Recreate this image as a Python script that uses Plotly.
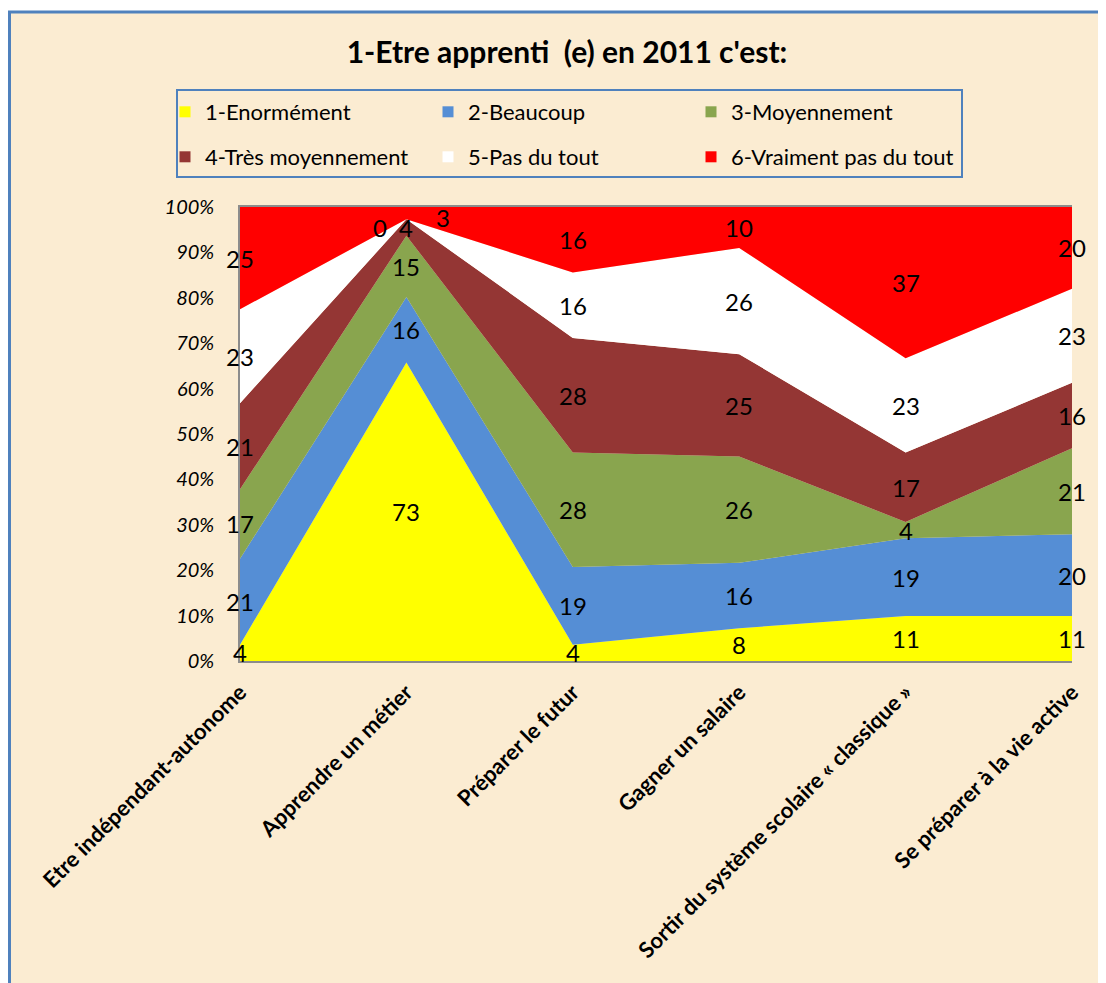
import plotly.graph_objects as go

categories = [
    "Etre indépendant-autonome",
    "Apprendre un métier",
    "Préparer le futur",
    "Gagner un salaire",
    "Sortir du système scolaire « classique »",
    "Se préparer à la vie active",
]
series_names = [
    "1-Enormément",
    "2-Beaucoup",
    "3-Moyennement",
    "4-Très moyennement",
    "5-Pas du tout",
    "6-Vraiment pas du tout",
]
enormement = [4, 73, 4, 8, 11, 11]
beaucoup = [21, 16, 19, 16, 19, 20]
moyennement = [17, 15, 28, 26, 4, 21]
tres_moyennement = [21, 4, 28, 25, 17, 16]
pas_du_tout = [23, 0, 16, 26, 23, 23]
vraiment_pas = [25, 3, 16, 10, 37, 20]
series_values = [enormement, beaucoup, moyennement, tres_moyennement, pas_du_tout, vraiment_pas]
colors = ["#FFFF00", "#558ED5", "#89A54E", "#943634", "#FFFFFF", "#FF0000"]
ytick_vals = [0, 10, 20, 30, 40, 50, 60, 70, 80, 90, 100]
ytick_text = [f"{v}%" for v in ytick_vals]

# manual label nudges (series index, category index) -> (xshift, yshift)
label_shift = {(4, 1): (-26, -8), (5, 1): (37, -4)}

OFF = 8  # page body margin
W, H = 1106, 983
L, R, T, B = 240 - OFF, 1072 - OFF, 207 - OFF, 661 - OFF  # plot area in figure pixels
PW, PH = R - L, B - T


def px_x(p):
    return (p - OFF - L) / PW


def px_y(p):
    return (B - (p - OFF)) / PH


fig = go.Figure()
for name, vals, col in zip(series_names, series_values, colors):
    fig.add_trace(go.Scatter(
        x=categories, y=vals, name=name, mode="none",
        stackgroup="one", groupnorm="percent",
        fillcolor=col, line=dict(width=0),
        showlegend=False, hoverinfo="skip",
    ))

# legend-only square markers
for i, (name, col) in enumerate(zip(series_names, colors)):
    fig.add_trace(go.Scatter(
        x=[None], y=[None], name=name, mode="markers",
        marker=dict(symbol="square", size=11, color=col, line=dict(width=0)),
        legend="legend" if i < 3 else "legend2",
    ))

# data labels at segment midpoints
totals = [sum(s[j] for s in series_values) for j in range(len(categories))]
for j, cat in enumerate(categories):
    cum = 0.0
    for i, vals in enumerate(series_values):
        v = vals[j]
        pct = v / totals[j] * 100
        mid = cum + pct / 2
        cum += pct
        xs, ys = label_shift.get((i, j), (0, 0))
        fig.add_annotation(
            x=cat, y=mid, text=str(v), showarrow=False,
            xshift=xs, yshift=ys,
            font=dict(family="Lato", size=24, color="black"),
        )

# frame
fig.add_shape(
    type="rect", xref="paper", yref="paper",
    x0=px_x(9.5), x1=px_x(1200), y0=px_y(1100), y1=px_y(12),
    line=dict(color="#4F81BD", width=3), fillcolor="#FBECD2", layer="below",
)
# legend box
fig.add_shape(
    type="rect", xref="paper", yref="paper",
    x0=px_x(177), x1=px_x(962), y0=px_y(177), y1=px_y(90),
    line=dict(color="#4F81BD", width=2), fillcolor="rgba(0,0,0,0)", layer="below",
)

legend_common = dict(
    orientation="h", xanchor="left", yanchor="middle",
    entrywidth=218, entrywidthmode="pixels", traceorder="normal",
    bgcolor="rgba(0,0,0,0)", borderwidth=0,
    font=dict(family="Lato", size=22, color="black"),
    itemclick=False, itemdoubleclick=False,
)

fig.update_layout(
    width=W, height=H,
    margin=dict(l=L, r=W - R, t=T, b=H - B, pad=0),
    paper_bgcolor="white",
    plot_bgcolor="rgba(0,0,0,0)",
    title=dict(
        text="<b>1-Etre apprenti  (e) en 2011 c'est:</b>",
        x=(567 - OFF) / W, xanchor="center", y=1 - (52 - OFF) / H, yanchor="middle",
        font=dict(family="Lato", size=30, color="black"),
    ),
    legend=dict(x=px_x(165), y=px_y(112), **legend_common),
    legend2=dict(x=px_x(165), y=px_y(157), **legend_common),
    xaxis=dict(
        type="category", range=[0, len(categories) - 1],
        showgrid=False, zeroline=False,
        showline=True, linecolor="#8C8C8C", linewidth=1.5, mirror=True,
        ticks="", tickangle=-45,
        tickfont=dict(family="Lato", size=22, color="black", weight="bold"),
        ticklabelstandoff=8,
    ),
    yaxis=dict(
        range=[0, 100], tickvals=ytick_vals, ticktext=ytick_text,
        showgrid=False, zeroline=False,
        showline=True, linecolor="#8C8C8C", linewidth=1.5,
        ticks="",
        tickfont=dict(family="Lato", size=20, color="black", style="italic"),
        ticklabelstandoff=20,
    ),
    showlegend=True,
)

fig.write_html("out.html")
